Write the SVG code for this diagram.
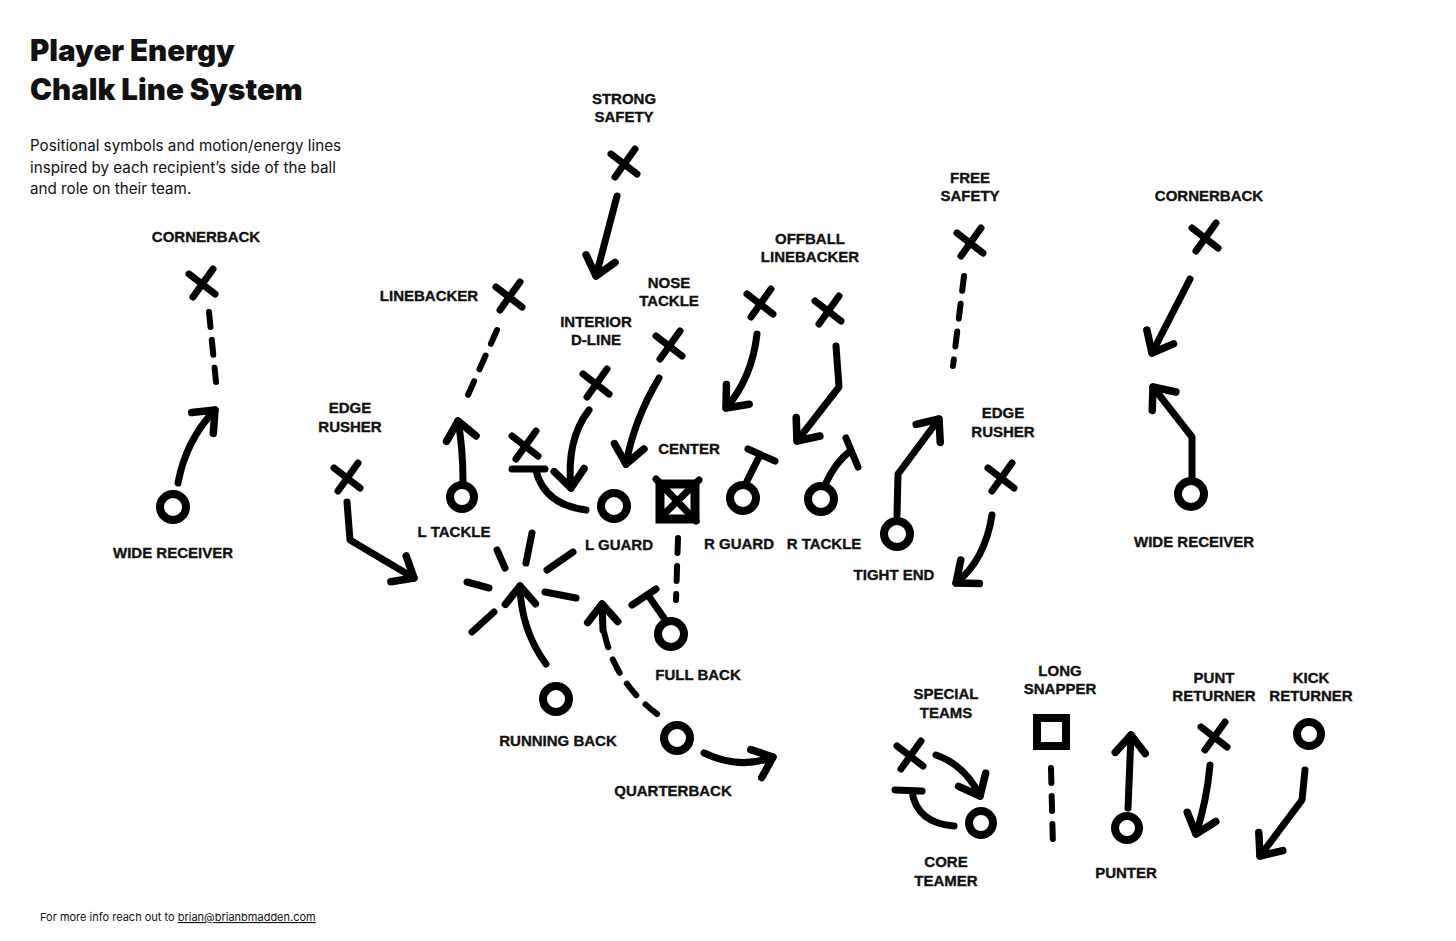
<svg xmlns="http://www.w3.org/2000/svg" width="1456" height="941" viewBox="0 0 1456 941">
<style>
.lbl{font-family:"Liberation Sans",Arial,sans-serif;font-weight:700;font-size:15px;fill:#111;text-anchor:middle;stroke:#111;stroke-width:0.35px}
.title{font-family:Inter,"Liberation Sans",sans-serif;font-weight:900;font-size:29.5px;fill:#111;letter-spacing:0px}
.sub{font-family:Inter,"Liberation Sans",sans-serif;font-weight:400;font-size:15.2px;fill:#111}
.foot{font-family:Inter,"Liberation Sans",sans-serif;font-weight:400;font-size:11px;fill:#111}
.ink{fill:none;stroke:#000;stroke-width:7;stroke-linecap:round;stroke-linejoin:round}
.dash{fill:none;stroke:#000;stroke-width:6;stroke-linecap:round;stroke-dasharray:15 13}
.arr{fill:none;stroke:#000;stroke-width:7;stroke-linecap:round;stroke-linejoin:round;marker-end:url(#ah)}
.o{fill:none;stroke:#000;stroke-width:8}
</style>
<defs>
<marker id="ah" markerUnits="userSpaceOnUse" markerWidth="48" markerHeight="48" refX="24" refY="24" orient="auto" overflow="visible">
<path d="M6,9 L24,24 L6,39" fill="none" stroke="#000" stroke-width="7.5" stroke-linecap="round" stroke-linejoin="round"/>
</marker>
<g id="xm"><path d="M-13,-9 L13,11 M11,-14 L-9,14" class="ink"/></g>
</defs>
<rect width="1456" height="941" fill="#fff"/>

<g id="header">
<text class="title" x="30" y="61">Player Energy</text>
<text class="title" x="30" y="100">Chalk Line System</text>
<text class="sub" x="30" y="151">Positional symbols and motion/energy lines</text>
<text class="sub" x="30" y="173">inspired by each recipient’s side of the ball</text>
<text class="sub" x="30" y="194">and role on their team.</text>
</g>

<g id="connectors">
<path class="arr" d="M617,196 L596,276"/>
<path class="dash" d="M964,276 L953,366"/>
<path class="arr" d="M1190,279 L1152,353"/>
<path class="dash" d="M209,312 L216,382"/>
<path class="arr" d="M178,483 Q186,440 215,410"/>
<path class="arr" d="M1192,476 L1192,437 L1153,387"/>
<path class="dash" d="M497,330 L464,404"/>
<path class="arr" d="M347,502 L350,540 L414,578"/>
<path class="arr" d="M463,482 Q463,448 458,421"/>
<path class="arr" d="M589,410 Q566,440 571,488"/>
<path class="arr" d="M659,378 Q634,420 626,464"/>
<path class="ink" d="M586,510 Q545,505 536,471 M512,469 L545,469"/>
<path class="dash" d="M678,538 L676,600"/>
<path class="ink" d="M747,481 L760,455 M748,449 L775,461"/>
<path class="ink" d="M826,483 Q835,463 850,451 M846,438 L858,467"/>
<path class="arr" d="M757,334 Q752,378 726,408"/>
<path class="arr" d="M836,346 L839,387 L797,441"/>
<path class="arr" d="M897,515 L898,474 L939,419"/>
<path class="arr" d="M992,515 Q985,560 956,583"/>
<path class="ink" d="M532,533 L526,563 M497,550 L505,568 M573,552 L547,570 M467,582 L489,588 M545,592 L576,598 M494,612 L472,632"/>
<path class="arr" d="M546,664 Q521,630 520,586"/>
<path class="ink" d="M664,618 L650,598 M632,605 L656,589"/>
<path class="dash" d="M657,714 Q612,680 603,626"/>
<path class="arr" d="M603,630 L602,604"/>
<path class="arr" d="M704,753 Q740,770 773,757"/>
<path class="arr" d="M936,755 Q965,765 980,796"/>
<path class="ink" d="M954,826 Q917,823 912,792 M895,790 L922,791"/>
<path class="dash" d="M1051,768 L1053,848"/>
<path class="arr" d="M1128,808 L1131,735"/>
<path class="arr" d="M1210,765 Q1207,800 1196,834"/>
<path class="arr" d="M1305,770 L1302,800 L1260,856"/>
</g>

<g id="n-strong-safety"><text class="lbl" x="624" y="104">STRONG</text><text class="lbl" x="624" y="122">SAFETY</text><use href="#xm" x="624" y="163"/></g>
<g id="n-free-safety"><text class="lbl" x="970" y="183">FREE</text><text class="lbl" x="970" y="201">SAFETY</text><use href="#xm" x="970" y="242"/></g>
<g id="n-cornerback-r"><text class="lbl" x="1209" y="201">CORNERBACK</text><use href="#xm" x="1205" y="237"/></g>
<g id="n-cornerback-l"><text class="lbl" x="206" y="242">CORNERBACK</text><use href="#xm" x="202" y="283"/></g>
<g id="n-wide-receiver-l"><circle class="o" cx="173" cy="507" r="13"/><text class="lbl" x="173" y="558">WIDE RECEIVER</text></g>
<g id="n-wide-receiver-r"><circle class="o" cx="1191" cy="494" r="13"/><text class="lbl" x="1194" y="547">WIDE RECEIVER</text></g>
<g id="n-linebacker"><text class="lbl" x="429" y="301">LINEBACKER</text><use href="#xm" x="509" y="296"/></g>
<g id="n-edge-rusher-l"><text class="lbl" x="350" y="413">EDGE</text><text class="lbl" x="350" y="432">RUSHER</text><use href="#xm" x="347" y="477"/></g>
<g id="n-l-tackle"><circle class="o" cx="462" cy="497" r="12"/><text class="lbl" x="454" y="537">L TACKLE</text></g>
<g id="n-interior-dline"><text class="lbl" x="596" y="327">INTERIOR</text><text class="lbl" x="596" y="345">D-LINE</text><use href="#xm" x="596" y="383"/></g>
<g id="n-nose-tackle"><text class="lbl" x="669" y="288">NOSE</text><text class="lbl" x="669" y="306">TACKLE</text><use href="#xm" x="669" y="345"/></g>
<g id="n-dline-x"><use href="#xm" x="525" y="445"/></g>
<g id="n-l-guard"><circle class="o" cx="614" cy="506" r="13"/><text class="lbl" x="619" y="550">L GUARD</text></g>
<g id="n-center"><text class="lbl" x="689" y="454">CENTER</text><rect x="660" y="484" width="35" height="35" fill="none" stroke="#000" stroke-width="9"/><path class="ink" d="M656,479 L696,521 M699,480 L660,518" stroke-width="5"/></g>
<g id="n-r-guard"><circle class="o" cx="743" cy="498" r="13"/><text class="lbl" x="739" y="549">R GUARD</text></g>
<g id="n-r-tackle"><circle class="o" cx="821" cy="499" r="13"/><text class="lbl" x="824" y="549">R TACKLE</text></g>
<g id="n-offball-lb"><text class="lbl" x="810" y="244">OFFBALL</text><text class="lbl" x="810" y="262">LINEBACKER</text><use href="#xm" x="760" y="303"/><use href="#xm" x="828" y="310"/></g>
<g id="n-tight-end"><circle class="o" cx="897" cy="534" r="13"/><text class="lbl" x="894" y="580">TIGHT END</text></g>
<g id="n-edge-rusher-r"><text class="lbl" x="1003" y="418">EDGE</text><text class="lbl" x="1003" y="437">RUSHER</text><use href="#xm" x="1001" y="477"/></g>
<g id="n-running-back"><circle class="o" cx="556" cy="699" r="13"/><text class="lbl" x="558" y="746">RUNNING BACK</text></g>
<g id="n-full-back"><circle class="o" cx="671" cy="634" r="13"/><text class="lbl" x="698" y="680">FULL BACK</text></g>
<g id="n-quarterback"><circle class="o" cx="677" cy="738" r="13"/><text class="lbl" x="673" y="796">QUARTERBACK</text></g>
<g id="n-special-teams"><text class="lbl" x="946" y="699">SPECIAL</text><text class="lbl" x="946" y="718">TEAMS</text><use href="#xm" x="910" y="755"/></g>
<g id="n-core-teamer"><circle class="o" cx="981" cy="823" r="12"/><text class="lbl" x="946" y="867">CORE</text><text class="lbl" x="946" y="886">TEAMER</text></g>
<g id="n-long-snapper"><text class="lbl" x="1060" y="676">LONG</text><text class="lbl" x="1060" y="694">SNAPPER</text><rect x="1037" y="718" width="29" height="28" fill="none" stroke="#000" stroke-width="8"/></g>
<g id="n-punter"><circle class="o" cx="1127" cy="828" r="12"/><text class="lbl" x="1126" y="878">PUNTER</text></g>
<g id="n-punt-returner"><text class="lbl" x="1214" y="683">PUNT</text><text class="lbl" x="1214" y="701">RETURNER</text><use href="#xm" x="1214" y="736"/></g>
<g id="n-kick-returner"><text class="lbl" x="1311" y="683">KICK</text><text class="lbl" x="1311" y="701">RETURNER</text><circle class="o" cx="1309" cy="734" r="12"/></g>

<g id="footer">
<text class="foot" x="40" y="921">For more info reach out to <tspan text-decoration="underline">brian@brianbmadden.com</tspan></text>
</g>
</svg>
